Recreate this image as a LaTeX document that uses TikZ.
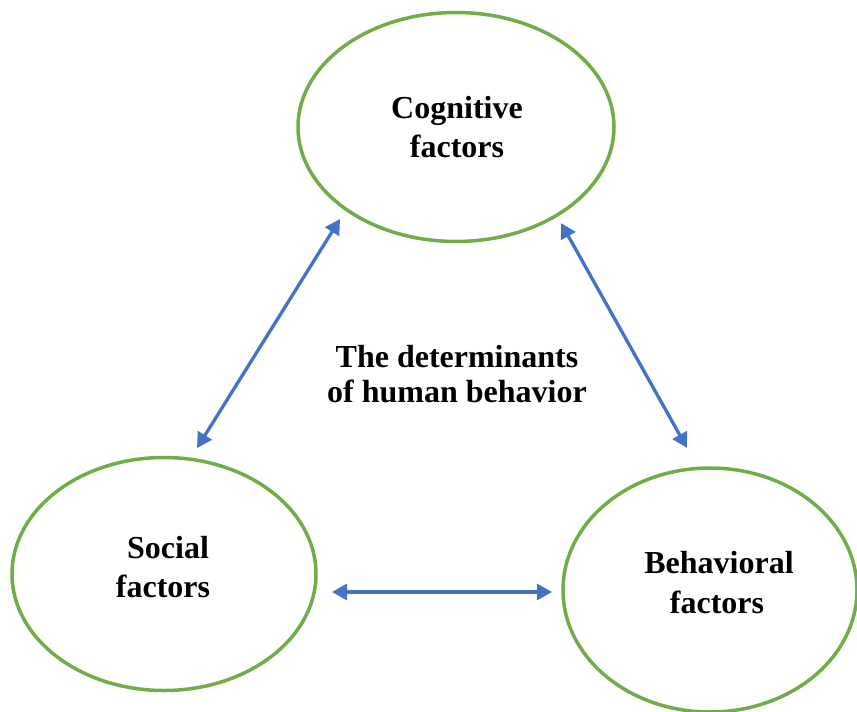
\documentclass[tikz,border=0pt]{standalone}
\usepackage{fontspec}
\setmainfont{Liberation Serif}
\usetikzlibrary{shapes.geometric,arrows.meta}
\definecolor{ringgreen}{RGB}{112,173,71}
\definecolor{arrowblue}{RGB}{68,114,196}
\tikzset{
  ring/.style={ellipse, draw=ringgreen, line width=3.5pt, inner sep=0pt, fill=white},
  lbl/.style={anchor=base, font=\fontsize{32}{39}\selectfont\bfseries, inner sep=0pt},
  link/.style={draw=arrowblue, line width=3.3pt,
    {Triangle[length=15pt,width=16pt]}-{Triangle[length=15pt,width=16pt]}}
}
\begin{document}
\begin{tikzpicture}[x=1pt,y=-1pt]
\useasboundingbox (0,0) rectangle (857,712);
\fill[white] (0,0) rectangle (857,712);
% ellipses
\node[ring, minimum width=316pt, minimum height=229pt] (cog) at (456,127) {};
\node[ring, minimum width=304pt, minimum height=233pt] (soc) at (164,574) {};
\node[ring, minimum width=294pt, minimum height=244pt] (beh) at (710,590) {};
% labels
\node[lbl] (cog1) at (457,118) {Cognitive};
\node[lbl] (cog2) at (457,157) {factors};
\node[lbl] (soc1) at (168,558) {Social};
\node[lbl] (soc2) at (163,597) {factors};
\node[lbl] (beh1) at (719,573) {Behavioral};
\node[lbl] (beh2) at (717,613) {factors};
\node[lbl] (mid1) at (457,367) {The determinants};
\node[lbl] (mid2) at (457,402) {of human behavior};
% connector ends
\coordinate (cogL) at (340,219);
\coordinate (socT) at (197,448);
\coordinate (cogR) at (561,223);
\coordinate (behT) at (687,448);
\coordinate (socR) at (332,592);
\coordinate (behL) at (552,592);
\draw[link] (cogL) -- (socT);
\draw[link] (cogR) -- (behT);
\draw[link] (socR) -- (behL);
\end{tikzpicture}
\end{document}
